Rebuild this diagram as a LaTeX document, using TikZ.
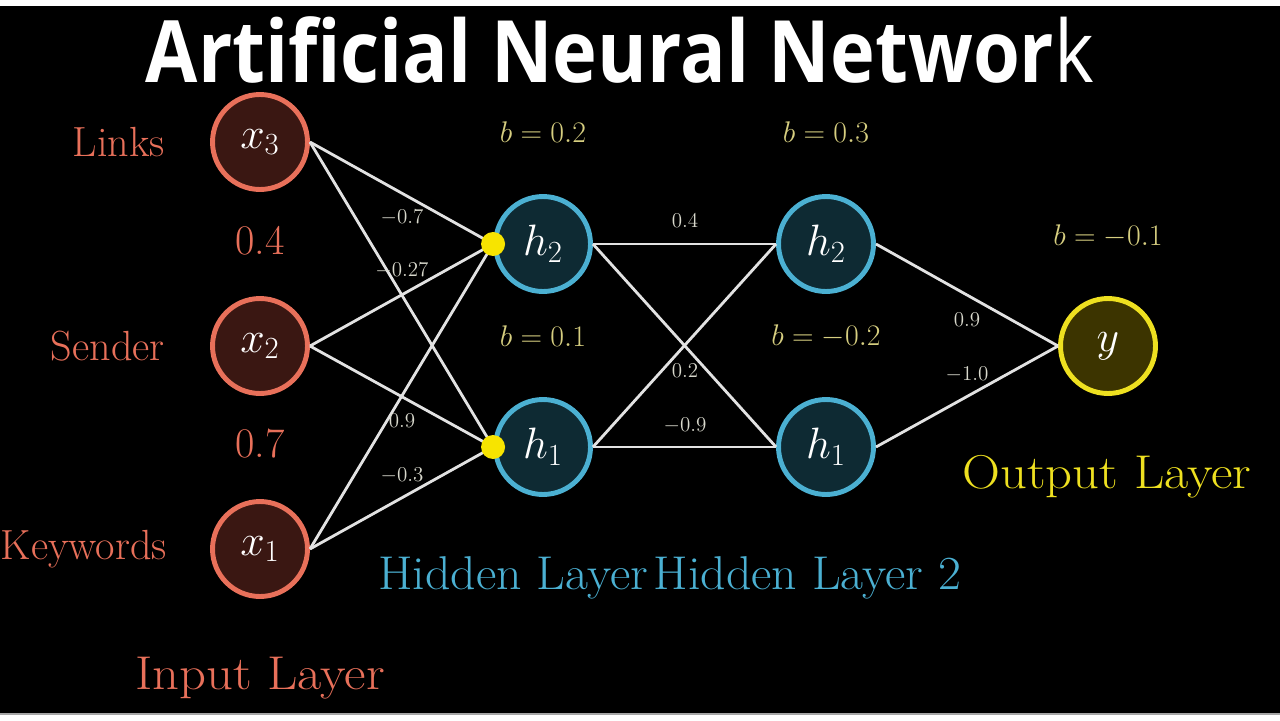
\documentclass[tikz,border=0pt]{standalone}
\usepackage{fix-cm}
\usepackage{fontspec}
\newfontfamily\titlefont{Open Sans}
\usepackage{xcolor}
\usetikzlibrary{positioning}

\definecolor{inred}{HTML}{E8705A}
\definecolor{infill}{HTML}{3A1712}
\definecolor{hidblue}{HTML}{4BB0D2}
\definecolor{hidfill}{HTML}{0E2A33}
\definecolor{outyel}{HTML}{EEE020}
\definecolor{outfill}{HTML}{3C3400}
\definecolor{biascol}{HTML}{D6CE80}
\definecolor{wcol}{HTML}{D8D8CC}
\definecolor{edgecol}{HTML}{E2E2E2}
\definecolor{dotyel}{HTML}{F7E400}

\newcommand{\widename}[2][1.11]{\scalebox{#1}[1]{#2}}

\begin{document}
\begin{tikzpicture}[
  x=0.02cm, y=-0.02cm,
  neuron/.style={circle, line width=2.8pt, minimum size=1.9cm, inner sep=0pt,
                 text=white, font=\fontsize{25}{30}\selectfont},
  inpt/.style={neuron, draw=inred, fill=infill},
  hid/.style={neuron, draw=hidblue, fill=hidfill},
  outp/.style={neuron, draw=outyel, fill=outfill},
  junct/.style={circle, fill=dotyel, minimum size=0.48cm, inner sep=0pt},
  edge/.style={draw=edgecol, line width=1.6pt},
  bias/.style={text=biascol, inner sep=0pt, font=\fontsize{17}{20}\selectfont},
  weight/.style={text=wcol, inner sep=0pt, font=\fontsize{12}{14}\selectfont},
  feat/.style={text=inred, inner sep=0pt, font=\fontsize{24}{28}\selectfont},
  layer/.style={inner sep=0pt, font=\fontsize{27}{32}\selectfont}
]
  % frame
  \useasboundingbox (0,0) rectangle (1280,720);
  \fill[white] (0,0) rectangle (1280,720);
  \fill[black] (0,6) rectangle (1280,713);
  \fill[gray!70] (0,713) rectangle (1280,715);

  % title
  \node[text=white, inner sep=0pt, font=\titlefont\fontsize{49}{56}\selectfont] (title) at (620,50)
    {\scalebox{0.88}[1]{{\bfseries Artificial Neural Networ}k}};

  % neurons
  \node[inpt] (x3) at (260,142) {$x_3$};
  \node[inpt] (x2) at (260,346) {$x_2$};
  \node[inpt] (x1) at (260,549) {$x_1$};
  \node[hid] (ha2) at (543,244) {$h_2$};
  \node[hid] (ha1) at (543,447) {$h_1$};
  \node[hid] (hb2) at (826,244) {$h_2$};
  \node[hid] (hb1) at (826,447) {$h_1$};
  \node[outp] (y) at (1108,346) {$y$};

  % connections
  \foreach \i in {x3,x2,x1}{
    \draw[edge] (\i.east) -- (ha2.west);
    \draw[edge] (\i.east) -- (ha1.west);
  }
  \foreach \i in {ha2,ha1}{
    \draw[edge] (\i.east) -- (hb2.west);
    \draw[edge] (\i.east) -- (hb1.west);
  }
  \draw[edge] (hb2.east) -- (y.west);
  \draw[edge] (hb1.east) -- (y.west);

  \node[junct] (j2) at (ha2.west) {};
  \node[junct] (j1) at (ha1.west) {};

  % inputs
  \node[feat, left=0.9cm of x3] (links) {Links};
  \node[feat, left=0.9cm of x2] (sender) {Sender};
  \node[feat, left=0.86cm of x1] (keywords) {Keywords};
  \node[feat] (v4) at (260,241) {0.4};
  \node[feat] (v7) at (260,444) {0.7};

  % biases
  \node[bias] (b12) at (543,132) {$b=0.2$};
  \node[bias] (b11) at (543,336) {$b=0.1$};
  \node[bias] (b22) at (826,132) {$b=0.3$};
  \node[bias] (b21) at (826,336) {$b=-0.2$};
  \node[bias] (by) at (1108,236) {$b=-0.1$};

  % weights
  \node[weight] (w1) at (402,218) {$-0.7$};
  \node[weight] (w2) at (402,271) {$-0.27$};
  \node[weight] (w4) at (402,421) {$0.9$};
  \node[weight] (w5) at (402,476) {$-0.3$};
  \node[weight] (w6) at (685,221) {$0.4$};
  \node[weight] (w7) at (685,371) {$0.2$};
  \node[weight] (w8) at (685,426) {$-0.9$};
  \node[weight] (w9) at (967,320) {$0.9$};
  \node[weight] (w10) at (967,375) {$-1.0$};

  % layer names
  \node[layer, text=inred] (inlayer) at (260,678) {\widename{Input Layer}};
  \node[layer, text=hidblue, anchor=west] (hid1) at (378,578) {\widename[1.05]{Hidden Layer}};
  \node[layer, text=hidblue, right=0.1cm of hid1] (hid2) {\widename[1.05]{Hidden Layer 2}};
  \node[layer, text=outyel] (outlayer) at (1107,477) {\widename{Output Layer}};
\end{tikzpicture}
\end{document}
